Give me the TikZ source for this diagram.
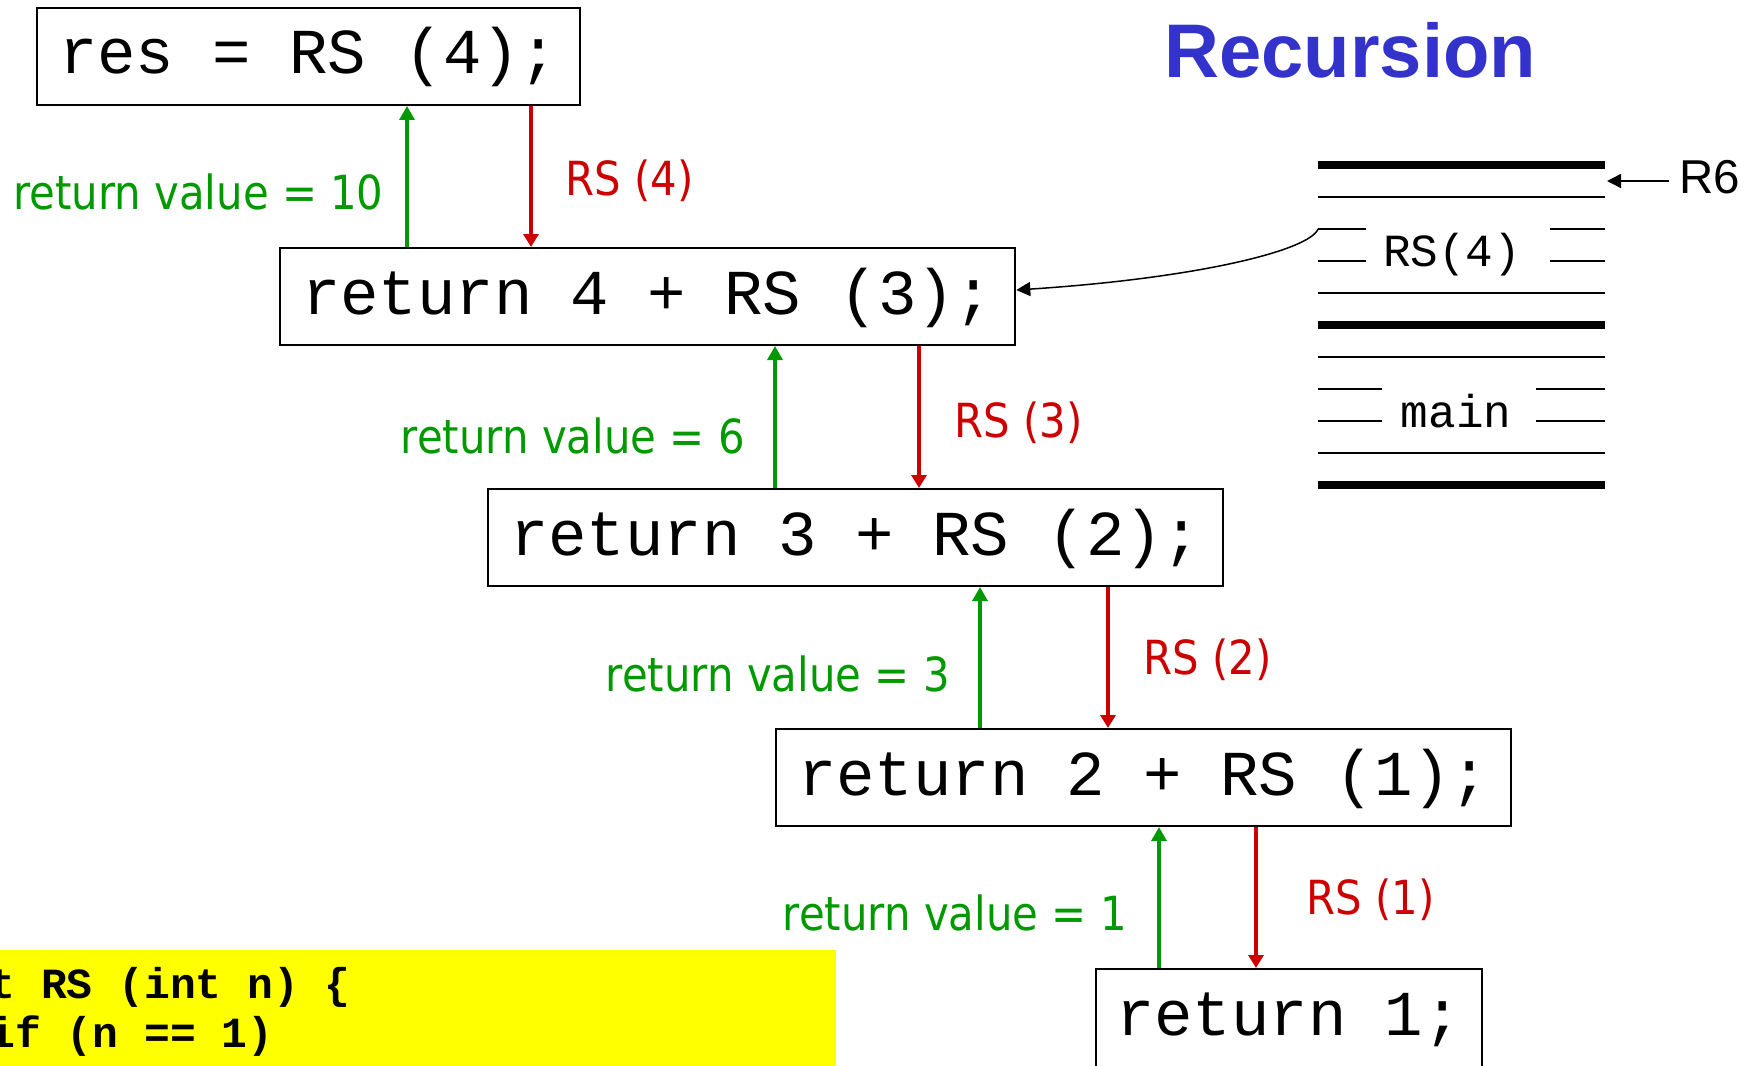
\documentclass[tikz,border=0pt]{standalone}
\usepackage{fontspec}
\setmainfont{Liberation Sans}
\newfontfamily\lblfont[FakeStretch=0.89]{DejaVu Sans}
\newfontfamily\codefont{Liberation Mono}
\usetikzlibrary{arrows.meta,calc}
\definecolor{rvgreen}{RGB}{0,153,0}
\definecolor{callred}{RGB}{204,0,0}
\definecolor{titleblue}{RGB}{51,51,204}
\definecolor{noteyellow}{RGB}{255,255,0}
% monospaced text with full-width, rigid word spaces
\newcommand\rigidspaces{\fontdimen2\font=0.6em\relax
  \fontdimen3\font=0pt\relax\fontdimen4\font=0pt\relax}
\newcommand\monosize[1]{\codefont\fontsize{#1}{#1}\selectfont\rigidspaces}
\newcommand\monoboldsize[1]{\codefont\bfseries\fontsize{#1}{#1}\selectfont\rigidspaces}
\tikzset{
  codebox/.style={draw=black, line width=1pt, anchor=north west, inner xsep=11pt,
    inner ysep=0pt, minimum height=48.5pt, text height=22.5pt, text depth=5pt,
    font=\monosize{32pt}},
  retlabel/.style={anchor=base east, inner sep=0pt, text=rvgreen,
    font=\lblfont\fontsize{23.5pt}{28pt}\selectfont},
  calllabel/.style={anchor=base west, inner sep=0pt, text=callred,
    font=\lblfont\fontsize{23.5pt}{28pt}\selectfont},
  retarrow/.style={color=rvgreen, line width=1.6pt, -{Triangle[length=7pt,width=7.5pt]}},
  callarrow/.style={color=callred, line width=1.6pt, -{Triangle[length=6.5pt,width=7.5pt]}},
  ptrarrow/.style={color=black, line width=0.75pt, -{Triangle[length=7pt,width=7pt]}},
  framelabel/.style={anchor=base, inner sep=0pt, font=\monosize{23pt}},
  notetext/.style={anchor=base west, inner sep=0pt, font=\monoboldsize{21.5pt}},
  thickrule/.style={line width=3.75pt},
  thinrule/.style={line width=1pt},
}
\begin{document}
\begin{tikzpicture}[x=0.5pt,y=-0.5pt]
\useasboundingbox (0,0) rectangle (1760,1065);

% call chain boxes
\node[codebox] (b1) at (36,7) {res = RS (4);};
\node[codebox] (b2) at (279,247) {return 4 + RS (3);};
\node[codebox] (b3) at (487,488) {return 3 + RS (2);};
\node[codebox] (b4) at (775,728) {return 2 + RS (1);};
\node[codebox, inner xsep=10pt, minimum height=60pt, text depth=16.5pt] (b5) at (1095,968) {return 1;};

% calls going down
\draw[callarrow] ($(b1.south west)+(495,0)$) -- ($(b2.north west)+(252,0)$);
\draw[callarrow] ($(b2.south west)+(640,0)$) -- ($(b3.north west)+(432,0)$);
\draw[callarrow] ($(b3.south west)+(621,0)$) -- ($(b4.north west)+(333,0)$);
\draw[callarrow] ($(b4.south west)+(481,0)$) -- ($(b5.north west)+(161,0)$);

% return values going up
\draw[retarrow] ($(b2.north west)+(128,0)$) -- ($(b1.south west)+(371,0)$);
\draw[retarrow] ($(b3.north west)+(288,0)$) -- ($(b2.south west)+(496,0)$);
\draw[retarrow] ($(b4.north west)+(205,0)$) -- ($(b3.south west)+(493,0)$);
\draw[retarrow] ($(b5.north west)+(64,0)$) -- ($(b4.south west)+(384,0)$);

% labels
\node[retlabel] (rv10) at (384,209) {return value = 10};
\node[retlabel] (rv6) at (745,453) {return value = 6};
\node[retlabel] (rv3) at (950,691) {return value = 3};
\node[retlabel] (rv1) at (1127,930) {return value = 1};
\node[calllabel] (c4) at (565,195) {RS (4)};
\node[calllabel] (c3) at (954,437) {RS (3)};
\node[calllabel] (c2) at (1143,674) {RS (2)};
\node[calllabel] (c1) at (1306,914) {RS (1)};

% title
\node[anchor=base west, inner sep=0pt, text=titleblue,
  font=\bfseries\fontsize{38pt}{44pt}\selectfont] (title) at (1164,78) {Recursion};

% run-time stack
\draw[thickrule] (1318,165) -- (1605,165);
\draw[thinrule] (1318,197) -- (1605,197);
\draw[thinrule] (1318,229) -- (1366,229) (1550,229) -- (1605,229);
\draw[thinrule] (1318,261) -- (1366,261) (1550,261) -- (1605,261);
\draw[thinrule] (1318,293) -- (1605,293);
\draw[thickrule] (1318,325) -- (1605,325);
\draw[thinrule] (1318,357) -- (1605,357);
\draw[thinrule] (1318,389) -- (1382,389) (1536,389) -- (1605,389);
\draw[thinrule] (1318,421) -- (1382,421) (1536,421) -- (1605,421);
\draw[thinrule] (1318,453) -- (1605,453);
\draw[thickrule] (1318,485) -- (1605,485);
\node[framelabel] (frs) at (1452,266) {RS(4)};
\node[framelabel] (fmain) at (1456,427) {main};

% stack pointer
\node[anchor=base west, inner sep=0pt, font=\fontsize{23.75pt}{28pt}\selectfont] (r6) at (1679,193) {R6};
\coordinate (r6from) at (1669,181);
\coordinate (r6tip) at (1607,181);
\draw[ptrarrow] (r6from) -- (r6tip);

% frame link back to the caller
\coordinate (frlink) at (1318,229);
\draw[ptrarrow] (frlink) .. controls (1310,250) and (1200,278) .. ($(b2.north east)+(0,43)$);

% source code note
\node[fill=noteyellow, anchor=north west, inner sep=0pt, minimum width=418pt,
  minimum height=60pt] (note) at (0,950) {};
\node[notetext] (n1) at (-11,998) {t RS (int n) \{};
\node[notetext] (n2) at (-11,1047) {if (n == 1)};
\end{tikzpicture}
\end{document}
